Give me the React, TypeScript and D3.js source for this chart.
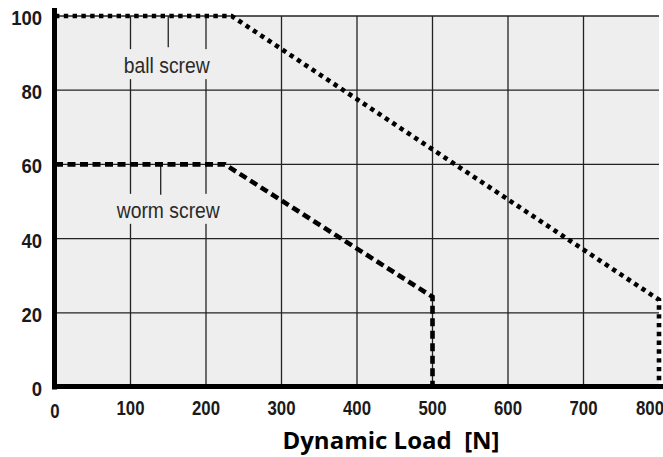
import React from "react";
import * as d3 from "d3";

const xTicks = [0, 100, 200, 300, 400, 500, 600, 700, 800];
const yTicks = [0, 20, 40, 60, 80, 100];
const ballLoad = [0, 234, 800, 800];
const ballPct = [100, 100, 23.5, 0];
const wormLoad = [0, 225, 500, 500];
const wormPct = [60, 60, 24.3, 0];
const annotations = [
  { text: "ball screw", load: 148, pct: 84.6, top: 100, mid: 150 },
  { text: "worm screw", load: 150, pct: 45.6, top: 60, mid: 140 },
];
const xTitle = "Dynamic Load  [N]";

const W = 663;
const H = 457;

export default function App() {
  const x = d3.scaleLinear().domain([0, 800]).range([55, 659]);
  const y = d3.scaleLinear().domain([0, 100]).range([387, 16]);
  const mk = (xs: number[], ys: number[]) =>
    d3
      .line<[number, number]>()
      .x((d) => x(d[0]))
      .y((d) => y(d[1]))(xs.map((v, i) => [v, ys[i]] as [number, number])) as string;
  const tickFont = "'Liberation Sans', Arial, sans-serif";
  const grey = "#eeeeee";
  const gridC = "#222";
  return (
    <svg
      width={W}
      height={H}
      style={{ position: "absolute", left: 0, top: 0, background: "#fff" }}
    >
      <rect x={x(0)} y={y(100)} width={x(800) - x(0)} height={y(0) - y(100)} fill={grey} />
      {yTicks
        .filter((t) => t > 0)
        .map((t) => (
          <line key={"h" + t} x1={x(0)} x2={x(800)} y1={y(t)} y2={y(t)} stroke={gridC} strokeWidth={1.3} />
        ))}
      {xTicks
        .filter((t) => t > 0 && t < 800)
        .map((t) => (
          <line key={"v" + t} x1={x(t)} x2={x(t)} y1={y(100)} y2={y(0)} stroke={gridC} strokeWidth={1.3} />
        ))}
      {annotations.map((a) => {
        const by = y(a.pct);
        return (
          <g key={a.text}>
            <rect x={x(85)} y={by - 24} width={x(225) - x(85)} height={30} fill={grey} />
            <line x1={x(a.mid)} x2={x(a.mid)} y1={y(a.top)} y2={by - 26 + (a.top === 60 ? 3 : 0)} stroke={gridC} strokeWidth={1.3} />
            <text
              transform={`translate(${x(a.load)},${by}) scale(0.92,1.05)`}
              textAnchor="middle"
              fontFamily="'Liberation Sans', Arial, sans-serif"
              fontSize={21}
              fill="#2a2a2a"
            >
              {a.text}
            </text>
          </g>
        );
      })}
      <path d={mk(wormLoad, wormPct)} fill="none" stroke="#000" strokeWidth={4.6} strokeDasharray="8 4.5" />
      <path d={mk(ballLoad, ballPct)} fill="none" stroke="#000" strokeWidth={4.6} strokeDasharray="4.4 4.4" />
      <line x1={54.5} x2={54.5} y1={8} y2={389.5} stroke="#000" strokeWidth={5} />
      <line x1={52} x2={W} y1={386.5} y2={386.5} stroke="#000" strokeWidth={5} />
      {yTicks.map((t) => (
        <text
          key={"yt" + t}
          transform={`translate(42,${y(t) + 9}) scale(0.88,1)`}
          textAnchor="end"
          fontFamily={tickFont}
          fontWeight="bold"
          fontSize={21}
          fill="#1a1a1a"
        >
          {t}
        </text>
      ))}
      {xTicks.map((t, i) => (
        <text
          key={"xt" + t}
          transform={`translate(${i === xTicks.length - 1 ? W + 1 : x(t)},${t === 0 ? 418 : 415}) scale(0.8,1)`}
          textAnchor={i === xTicks.length - 1 ? "end" : "middle"}
          fontFamily={tickFont}
          fontWeight="bold"
          fontSize={21}
          fill="#1a1a1a"
        >
          {t}
        </text>
      ))}
      <text
        x={391}
        y={449}
        textAnchor="middle"
        fontFamily="'Open Sans', sans-serif"
        fontWeight="bold"
        fontSize={24}
        fill="#000"
        style={{ whiteSpace: "pre" }}
      >
        {xTitle}
      </text>
    </svg>
  );
}
